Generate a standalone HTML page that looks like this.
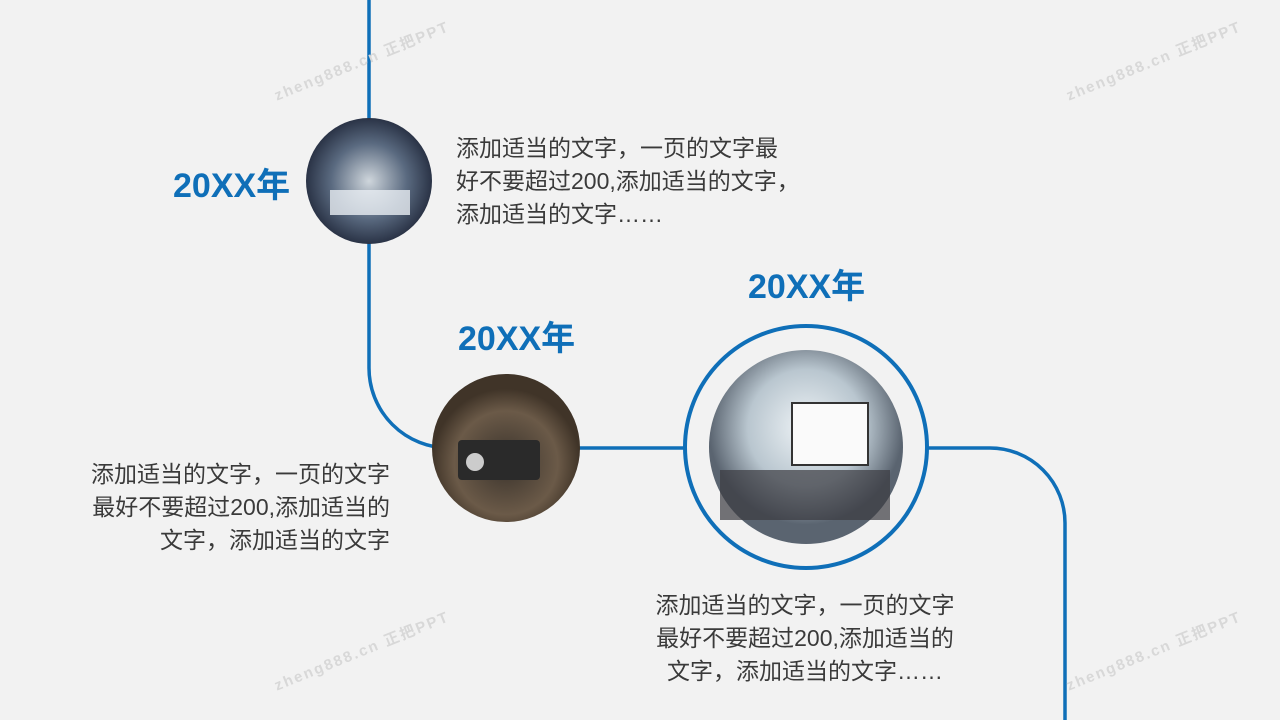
<!DOCTYPE html>
<html><head><meta charset="utf-8"><style>
html,body{margin:0;padding:0}
body{width:1280px;height:720px;background:#f2f2f2;position:relative;overflow:hidden;font-family:"Liberation Sans","Noto Sans CJK SC",sans-serif}
.y{position:absolute;color:#0f6fb8;font-weight:bold;font-size:34px;line-height:1}
.p{position:absolute;color:#3a3a3a;font-size:23px;line-height:33px;white-space:nowrap}
.wm{position:absolute;color:#d8d8d8;font-size:15px;font-weight:bold;letter-spacing:2px;transform:rotate(-22deg);white-space:nowrap}
</style></head><body>
<svg width="1280" height="720" style="position:absolute;left:0;top:0">
<defs>
<radialGradient id="g1" cx="50%" cy="50%" r="50%"><stop offset="0" stop-color="#cfd6dc"/><stop offset="0.6" stop-color="#5a6a80"/><stop offset="1" stop-color="#2a3346"/></radialGradient>
<radialGradient id="g2" cx="50%" cy="60%" r="50%"><stop offset="0" stop-color="#3a332c"/><stop offset="0.7" stop-color="#6b5a48"/><stop offset="1" stop-color="#403428"/></radialGradient>
<radialGradient id="g3" cx="50%" cy="40%" r="50%"><stop offset="0" stop-color="#eef3f6"/><stop offset="0.6" stop-color="#b9c6cf"/><stop offset="1" stop-color="#5a6470"/></radialGradient>
</defs>
<path d="M369 0 V368 A80 80 0 0 0 449 448 H990 A75 75 0 0 1 1065 523 V720" fill="none" stroke="#0f6fb8" stroke-width="3.5"/>
<circle cx="369" cy="181" r="63" fill="url(#g1)"/>
<rect x="330" y="190" width="80" height="25" fill="#e8eef2" opacity="0.8"/>
<circle cx="506" cy="448" r="74" fill="url(#g2)"/>
<rect x="458" y="440" width="82" height="40" rx="4" fill="#2a2a2a"/>
<circle cx="475" cy="462" r="9" fill="#ccc"/>
<circle cx="806" cy="447" r="121" fill="#f2f2f2" stroke="#0f6fb8" stroke-width="4"/>
<circle cx="806" cy="447" r="97" fill="url(#g3)"/>
<rect x="792" y="403" width="76" height="62" fill="#fafafa" stroke="#333" stroke-width="2"/>
<rect x="720" y="470" width="170" height="50" fill="#3a3a40" opacity="0.7"/>
</svg>
<div class="y" style="left:173px;top:169px">20XX年</div>
<div class="y" style="left:458px;top:322px">20XX年</div>
<div class="y" style="left:748px;top:270px">20XX年</div>
<div class="p" style="left:456px;top:132px">添加适当的文字，一页的文字最<br>好不要超过200,添加适当的文字，<br>添加适当的文字……</div>
<div class="p" style="left:40px;top:458px;width:350px;text-align:right">添加适当的文字，一页的文字<br>最好不要超过200,添加适当的<br>文字，添加适当的文字</div>
<div class="p" style="left:630px;top:589px;width:350px;text-align:center">添加适当的文字，一页的文字<br>最好不要超过200,添加适当的<br>文字，添加适当的文字……</div>
<div class="wm" style="left:268px;top:50px">zheng888.cn 正把PPT</div>
<div class="wm" style="left:1060px;top:50px">zheng888.cn 正把PPT</div>
<div class="wm" style="left:268px;top:640px">zheng888.cn 正把PPT</div>
<div class="wm" style="left:1060px;top:640px">zheng888.cn 正把PPT</div>
</body></html>
